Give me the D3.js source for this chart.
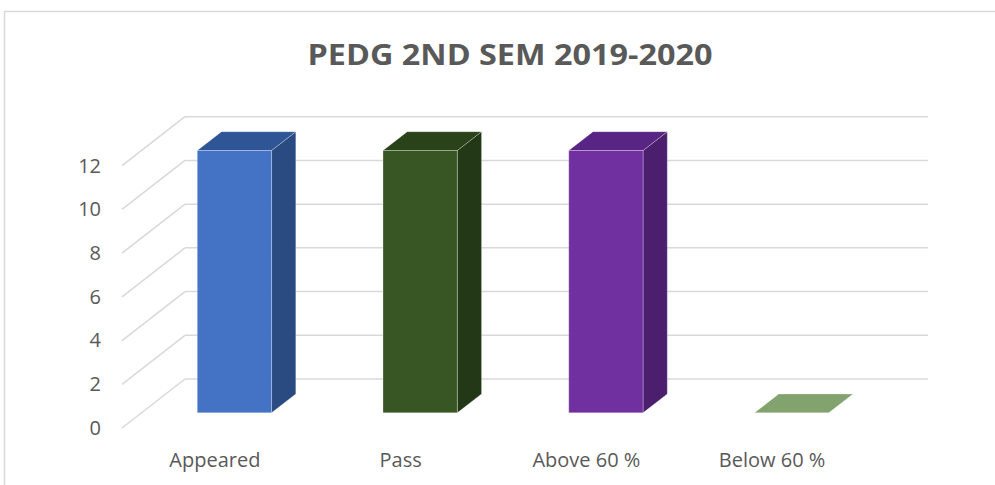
<!DOCTYPE html>
<html lang="en">
<head>
    <meta charset="UTF-8">
    <title>PEDG 2ND SEM 2019-2020</title>
    <script src="https://d3js.org/d3.v7.min.js"></script>
    <style>
        body {
            margin: 0;
            background: #fff;
            font-family: "Open Sans", Arial, sans-serif;
        }
        .grid line {
            stroke: #d9d9d9;
            stroke-width: 1.5px;
        }
        .tick text, .cat {
            font-size: 20px;
            fill: #595959;
        }
    </style>
</head>
<body>
    <svg width="995" height="485"></svg>

    <script>
        // chart data
        const categories = ["Appeared", "Pass", "Above 60 %", "Below 60 %"];
        const values = [12, 12, 12, 0];
        const yTicks = [0, 2, 4, 6, 8, 10, 12];
        const frontColors = ["#4472C4", "#375623", "#7030A0", "#A9D18E"];
        const topColors = ["#2F5597", "#2A4219", "#582584", "#82A26E"];
        const sideColors = ["#2A4A82", "#233816", "#4B1F6D", "#6F8C5C"];

        const svg = d3.select("svg");

        // outer chart border (runs off the right and bottom edge)
        svg.append("rect")
            .attr("x", 4.5).attr("y", 11.5)
            .attr("width", 1100).attr("height", 600)
            .attr("fill", "none")
            .attr("stroke", "#d9d9d9")
            .attr("stroke-width", 1.5);

        svg.append("text")
            .attr("x", 510).attr("y", 64.5)
            .attr("text-anchor", "middle")
            .attr("font-size", "28px")
            .attr("font-weight", "bold")
            .attr("fill", "#595959")
            .attr("textLength", 405)
            .attr("lengthAdjust", "spacingAndGlyphs")
            .text("PEDG 2ND SEM 2019-2020");

        // 3d projection: front plane + depth offset
        const left = 122, right = 865, floorY = 428;
        const depthX = 63, depthY = 49;
        const y = d3.scaleLinear().domain([0, 12]).range([floorY, floorY - 262.3]);
        const x = d3.scaleBand().domain(categories).range([left, right])
            .paddingInner(0.6).paddingOuter(0.3);

        // point at front-plane coords shifted back by depth t (0..1)
        const P = (px, py, t) => [px + t * depthX, py - t * depthY];

        // gridlines: left wall diagonal + back wall horizontal
        const grid = svg.append("g").attr("class", "grid");
        yTicks.forEach(v => {
            const a = P(left, y(v), 0), b = P(left, y(v), 1), c = P(right, y(v), 1);
            grid.append("line").attr("x1", a[0]).attr("y1", a[1]).attr("x2", b[0]).attr("y2", b[1]);
            grid.append("line").attr("x1", b[0]).attr("y1", b[1]).attr("x2", c[0]).attr("y2", c[1]);
        });

        // y axis labels
        svg.append("g")
            .attr("transform", "translate(101,0)")
            .call(d3.axisLeft(y).tickValues(yTicks).tickSize(0).tickPadding(0))
            .call(g => g.select(".domain").remove())
            .selectAll("text")
            .attr("font-family", "Open Sans, Arial, sans-serif")
            .attr("font-size", "20px")
            .attr("fill", "#595959");

        // bars
        const t0 = 0.31, t1 = 0.695;
        const poly = pts => "M" + pts.map(p => p.join(",")).join("L") + "Z";

        categories.forEach((c, i) => {
            const x0 = x(c), x1 = x(c) + x.bandwidth();
            const yb = y(0), yt = y(values[i]);
            const g = svg.append("g")
                .attr("stroke", "rgba(255,255,255,0.35)")
                .attr("stroke-width", 0.8)
                .attr("stroke-linejoin", "round");
            // side face
            g.append("path").attr("fill", sideColors[i])
                .attr("d", poly([P(x1, yb, t0), P(x1, yb, t1), P(x1, yt, t1), P(x1, yt, t0)]));
            // top face
            g.append("path").attr("fill", topColors[i])
                .attr("d", poly([P(x0, yt, t0), P(x1, yt, t0), P(x1, yt, t1), P(x0, yt, t1)]));
            // front face
            if (values[i] > 0) {
                g.append("path").attr("fill", frontColors[i])
                    .attr("d", poly([P(x0, yb, t0), P(x1, yb, t0), P(x1, yt, t0), P(x0, yt, t0)]));
            }
        });

        // category labels
        svg.selectAll(".cat")
            .data(categories)
            .join("text")
            .attr("class", "cat")
            .attr("x", d => x(d) + x.bandwidth() / 2)
            .attr("y", 466.5)
            .attr("text-anchor", "middle")
            .text(d => d);
    </script>
</body>
</html>
